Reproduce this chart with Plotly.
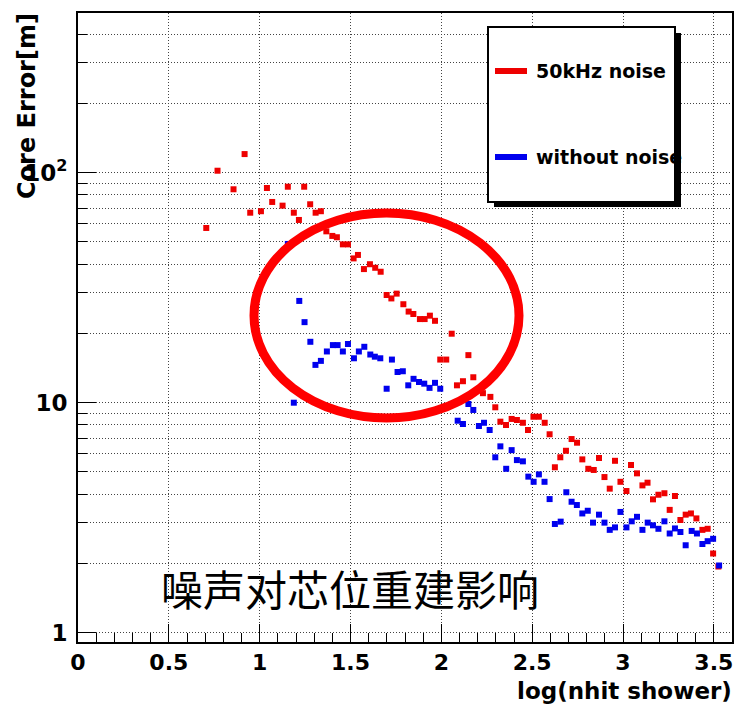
import plotly.graph_objects as go

# ---------------- data ----------------
red_x = [0.706, 0.768, 0.856, 0.917, 0.948, 1.007, 1.040, 1.069, 1.126, 1.155,
         1.188, 1.216, 1.245, 1.278, 1.308, 1.337, 1.367, 1.400, 1.425, 1.458,
         1.486, 1.517, 1.541, 1.574, 1.607, 1.636, 1.666, 1.699, 1.725, 1.754,
         1.791, 1.820, 1.846, 1.882, 1.908, 1.937, 1.965, 1.994, 2.027, 2.057,
         2.086, 2.119, 2.149, 2.176, 2.229, 2.270, 2.297, 2.325, 2.356, 2.387,
         2.416, 2.449, 2.477, 2.507, 2.537, 2.569, 2.596, 2.625, 2.655, 2.686,
         2.717, 2.747, 2.776, 2.809, 2.839, 2.868, 2.898, 2.927, 2.956, 2.986,
         3.019, 3.044, 3.077, 3.107, 3.135, 3.165, 3.195, 3.228, 3.257, 3.286,
         3.316, 3.345, 3.374, 3.404, 3.437, 3.466, 3.496, 3.525]
red_y = [57.5, 102, 84.7, 120.5, 67, 68, 85.8, 74.6, 71.9, 86.9,
         67, 62.3, 86.9, 72.9, 67, 68, 55.6, 53.1, 52.4, 48.8,
         48.8, 42.4, 43.9, 38.1, 40.0, 38.6, 37.1, 29.4, 28.4, 29.8,
         26.8, 24.9, 24.3, 23.1, 23.1, 23.9, 22.7, 15.4, 15.4, 19.95,
         11.9, 12.4, 16.1, 12.9, 11.0, 10.6, 9.55, 8.27, 8.0, 8.5,
         8.41, 8.18, 7.61, 8.69, 8.69, 8.18, 7.29, 5.24, 5.79, 6.18,
         6.95, 6.70, 5.67, 5.16, 5.10, 5.75, 4.75, 4.23, 5.59, 4.53,
         4.13, 5.36, 4.93, 4.37, 4.49, 3.80, 3.98, 4.04, 3.42, 3.93,
         3.09, 3.26, 3.30, 3.14, 2.80, 2.83, 2.21, 1.94]

blue_x = [1.155, 1.188, 1.218, 1.247, 1.279, 1.307, 1.337, 1.370, 1.403, 1.429,
          1.458, 1.486, 1.519, 1.546, 1.576, 1.609, 1.634, 1.664, 1.699, 1.728,
          1.759, 1.788, 1.818, 1.847, 1.877, 1.906, 1.935, 1.965, 1.994, 2.027,
          2.057, 2.090, 2.119, 2.149, 2.176, 2.207, 2.235, 2.266, 2.297, 2.325,
          2.357, 2.387, 2.416, 2.449, 2.479, 2.508, 2.537, 2.568, 2.596, 2.625,
          2.657, 2.688, 2.717, 2.746, 2.776, 2.806, 2.835, 2.868, 2.898, 2.927,
          2.956, 2.986, 3.019, 3.048, 3.077, 3.107, 3.136, 3.165, 3.195, 3.228,
          3.257, 3.286, 3.316, 3.345, 3.378, 3.407, 3.437, 3.466, 3.496, 3.529]
blue_y = [49, 10.0, 27.7, 22.4, 18.4, 14.6, 15.2, 16.7, 17.8, 17.8,
          16.7, 18.0, 15.6, 16.7, 17.5, 16.2, 15.85, 15.6, 11.5, 15.4,
          13.6, 13.7, 11.9, 12.7, 12.3, 12.1, 11.6, 12.2, 11.5, 9.6,
          9.87, 8.35, 8.08, 9.87, 9.3, 7.92, 8.18, 7.61, 5.79, 6.46,
          5.16, 6.22, 5.63, 5.56, 4.77, 4.53, 4.88, 4.53, 3.81, 2.97,
          3.04, 4.08, 3.71, 3.59, 3.30, 3.39, 3.01, 3.26, 3.01, 2.80,
          2.87, 3.35, 2.87, 3.05, 3.19, 2.80, 3.01, 2.93, 2.83, 3.05,
          2.70, 2.84, 2.74, 2.40, 2.77, 2.70, 2.43, 2.50, 2.56, 1.96]

x_tickvals = [0, 0.5, 1, 1.5, 2, 2.5, 3, 3.5]
x_ticktext = ["0", "0.5", "1", "1.5", "2", "2.5", "3", "3.5"]
y_tickvals = [1, 10, 100]
y_ticktext = ["1", "10", "10<sup>2</sup>"]
series_names = ["50kHz noise", "without noise"]
annotation_text = "噪声对芯位重建影响"

# ---------------- layout helpers ----------------
W, H = 736, 705
L, R, T, B = 78, 4, 13, 63
PW, PH = W - L - R, H - T - B


def px(x):
    return (x - L) / PW


def py(y):
    return (H - B - y) / PH


RED = "#ee0000"
BLUE = "#0000ee"
GRID = "#444444"
FONT = "DejaVu Sans"

fig = go.Figure()
fig.add_trace(go.Scatter(x=red_x, y=red_y, mode="markers", name=series_names[0],
                         marker=dict(symbol="square", size=6, color=RED, line=dict(width=0)),
                         showlegend=False))
fig.add_trace(go.Scatter(x=blue_x, y=blue_y, mode="markers", name=series_names[1],
                         marker=dict(symbol="square", size=6, color=BLUE, line=dict(width=0)),
                         showlegend=False))

y_minor = [m * 10 ** e for e in range(0, 3) for m in range(2, 10)]
x_minor = [i / 10 for i in range(0, 37)]

fig.update_xaxes(
    range=[0, 3.6], tickmode="array", tickvals=x_tickvals, ticktext=x_ticktext,
    ticks="inside", ticklen=18, tickwidth=1, tickcolor="black",
    showgrid=True, gridcolor=GRID, gridwidth=1, griddash="1px,2px",
    showline=True, linecolor="black", linewidth=2, mirror=True, zeroline=False,
    minor=dict(tickvals=x_minor, ticks="inside", ticklen=9, tickcolor="black",
               tickwidth=1, showgrid=False),
    tickfont=dict(family=FONT, size=22, color="black", weight="bold"),
    ticklabelstandoff=0,
)
fig.update_yaxes(
    type="log", range=[-0.0404, 2.6943], tickmode="array",
    tickvals=y_tickvals, ticktext=y_ticktext,
    ticks="inside", ticklen=18, tickwidth=1, tickcolor="black",
    showgrid=True, gridcolor=GRID, gridwidth=1, griddash="1px,2px",
    showline=True, linecolor="black", linewidth=2, mirror=True, zeroline=False,
    minor=dict(tickvals=y_minor, ticks="inside", ticklen=9, tickcolor="black",
               tickwidth=1, showgrid=True, gridcolor=GRID, gridwidth=1,
               griddash="1px,2px"),
    tickfont=dict(family=FONT, size=23, color="black", weight="bold"),
    ticklabelstandoff=4,
)

shapes = [
    # highlight ellipse
    dict(type="circle", xref="paper", yref="paper",
         x0=px(254), x1=px(519), y0=py(418), y1=py(213),
         line=dict(color="#ff0000", width=9), layer="above"),
    # legend shadow
    dict(type="rect", xref="paper", yref="paper",
         x0=px(494), x1=px(681), y0=py(207), y1=py(33),
         fillcolor="black", line=dict(width=0), layer="above"),
    # legend box
    dict(type="rect", xref="paper", yref="paper",
         x0=px(488), x1=px(675), y0=py(202), y1=py(27),
         fillcolor="white", line=dict(color="black", width=2), layer="above"),
    # legend keys
    dict(type="line", xref="paper", yref="paper",
         x0=px(495), x1=px(527), y0=py(71), y1=py(71),
         line=dict(color=RED, width=6), layer="above"),
    dict(type="line", xref="paper", yref="paper",
         x0=px(495), x1=px(527), y0=py(157), y1=py(157),
         line=dict(color=BLUE, width=6), layer="above"),
]

annotations = [
    dict(text=series_names[0], xref="paper", yref="paper", x=px(534), y=py(71),
         xanchor="left", yanchor="middle", showarrow=False,
         font=dict(family=FONT, size=19, color="black", weight="bold")),
    dict(text=series_names[1], xref="paper", yref="paper", x=px(534), y=py(157),
         xanchor="left", yanchor="middle", showarrow=False,
         font=dict(family=FONT, size=19, color="black", weight="bold")),
    dict(text=annotation_text, xref="paper", yref="paper", x=px(350), y=py(587),
         xanchor="center", yanchor="middle", showarrow=False,
         font=dict(family="Noto Sans CJK SC", size=42, color="black")),
    dict(text="log(nhit shower)", xref="paper", yref="paper", x=px(734), y=py(691),
         xanchor="right", yanchor="middle", showarrow=False,
         font=dict(family=FONT, size=23, color="black", weight="bold")),
    dict(text="Core Error[m]", xref="paper", yref="paper", x=px(27), y=py(11),
         xanchor="center", yanchor="top", textangle=-90, showarrow=False,
         font=dict(family=FONT, size=24, color="black", weight="bold")),
]

fig.update_layout(
    width=W, height=H,
    margin=dict(l=L, r=R, t=T, b=B, autoexpand=False),
    paper_bgcolor="white", plot_bgcolor="white",
    shapes=shapes, annotations=annotations,
    showlegend=False,
)

fig.write_html(
    "out.html",
    config={"displayModeBar": False},
    post_script="document.body.style.margin='0';document.body.style.overflow='hidden';",
)
